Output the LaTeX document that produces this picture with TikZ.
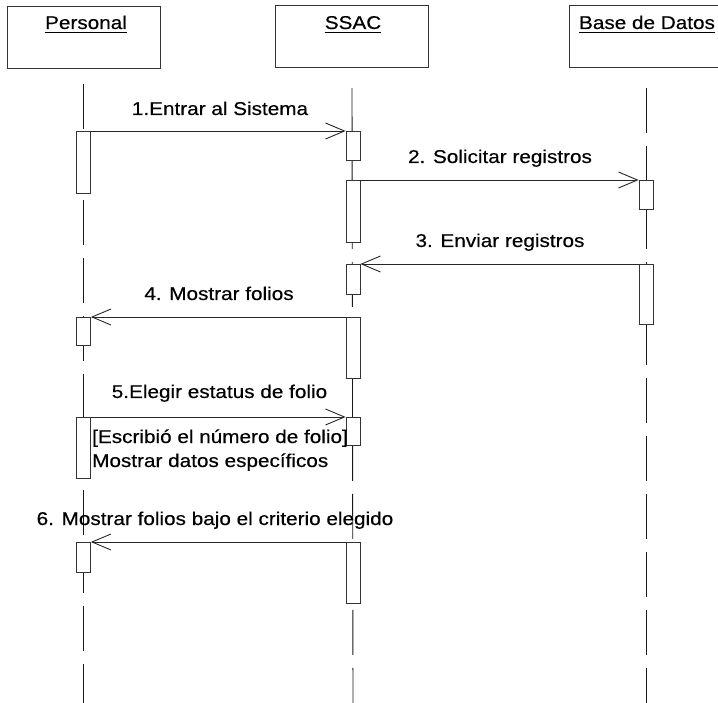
\documentclass[tikz,border=0pt]{standalone}
\usepackage{fontspec}
\setmainfont{Liberation Sans}[FakeStretch=1.12,FakeBold=0.4]
\usetikzlibrary{arrows.meta}
\begin{document}
\begin{tikzpicture}[x=1pt,y=-1pt,
  every node/.style={font=\fontsize{18.5}{21}\selectfont, inner sep=0pt, text=black},
  actorbox/.style={draw=black!80, line width=0.8pt, minimum width=153pt, minimum height=62pt, anchor=north},
  actortext/.style={anchor=base},
  underln/.style={line width=1.6pt},
  lifeline/.style={draw=black!90, line width=0.9pt, dash pattern=on 45pt off 13pt},
  activation/.style={draw=black!80, fill=white, line width=0.7pt, minimum width=14pt, anchor=north},
  msg/.style={draw=black!85, line width=0.8pt, -{Straight Barb[length=19pt,width=16pt,line width=0.9pt]}},
  msglabel/.style={anchor=base},
  guard/.style={anchor=base west},
]
\useasboundingbox (0,0) rectangle (718,703);
\clip (0,0) rectangle (718,703);

% object boxes
\node[actorbox] (pbox) at (83.5,6) {};
\node[actorbox] (sbox) at (352,5) {};
\node[actorbox] (bbox) at (646,5) {};
\node[actortext] (ptext) at (86,29) {Personal};
\node[actortext] (stext) at (353,29) {SSAC};
\node[actortext] (btext) at (647,29) {Base de Datos};
\foreach \t in {ptext,stext,btext}
  \draw[underln] ([yshift=-3.5pt]\t.base west) -- ([yshift=-3.5pt]\t.base east);

% lifelines
\coordinate (pend) at (83.5,703);
\coordinate (send) at (353,703);
\coordinate (bend) at (646,703);
\draw[lifeline] ([yshift=-15pt]pbox.south) -- (pend);
\draw[lifeline] ([yshift=-20pt]sbox.south) -- (send);
\draw[lifeline] ([yshift=-20pt]bbox.south) -- (bend);

% activations: Personal
\node[activation, minimum height=62pt] (pa1) at (83.5,131) {};
\node[activation, minimum height=28pt] (pa2) at (83.5,317) {};
\node[activation, minimum height=61pt] (pa3) at (83.5,417) {};
\node[activation, minimum height=30pt] (pa4) at (83.5,542) {};
% activations: SSAC
\node[activation, minimum height=29pt] (sa1) at (353,131) {};
\node[activation, minimum height=62pt] (sa2) at (353,180) {};
\node[activation, minimum height=30pt] (sa3) at (353,264) {};
\node[activation, minimum height=61pt] (sa4) at (353,317) {};
\node[activation, minimum height=28pt] (sa5) at (353,417) {};
\node[activation, minimum height=61pt] (sa6) at (353,542) {};
% activations: Base de Datos
\node[activation, minimum height=29pt] (ba1) at (646,180) {};
\node[activation, minimum height=60pt] (ba2) at (646,264) {};

% messages
\draw[msg] (pa1.north east) -- (sa1.north west);
\draw[msg] (sa2.north east) -- (ba1.north west);
\draw[msg] (ba2.north west) -- (sa3.north east);
\draw[msg] (sa4.north west) -- (pa2.north east);
\draw[msg] (pa3.north east) -- (sa5.north west);
\draw[msg] (sa6.north west) -- (pa4.north east);

% message labels
\node[msglabel] (l1) at (220,115) {1.Entrar al Sistema};
\node[msglabel] (l2) at (500,163) {2. Solicitar registros};
\node[msglabel] (l3) at (500,247) {3. Enviar registros};
\node[msglabel] (l4) at (219,300) {4. Mostrar folios};
\node[msglabel] (l5) at (219.5,398) {5.Elegir estatus de folio};
\node[guard] (g1) at (92,443) {[Escribió el número de folio]};
\node[guard] (g2) at (92,467) {Mostrar datos específicos};
\node[msglabel] (l6) at (215,525) {6. Mostrar folios bajo el criterio elegido};
\end{tikzpicture}
\end{document}
